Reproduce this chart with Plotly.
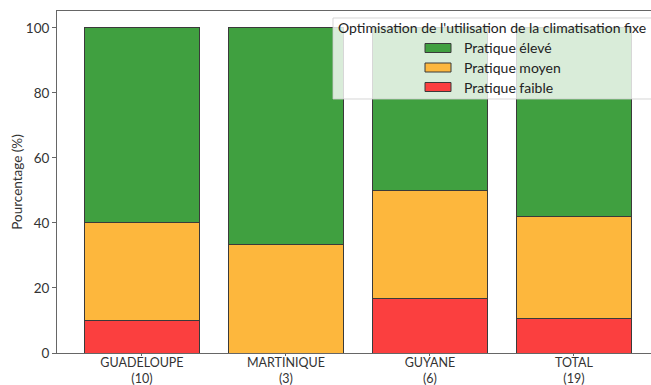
import plotly.graph_objects as go

categories = ["GUADELOUPE<br>(10)", "MARTINIQUE<br>(3)", "GUYANE<br>(6)", "TOTAL<br>(19)"]
faible = [10.0, 0.0, 16.67, 10.53]
moyen = [30.0, 33.33, 33.33, 31.58]
eleve = [60.0, 66.67, 50.0, 57.89]
series_names = ["Pratique faible", "Pratique moyen", "Pratique élevé"]
legend_title = "Optimisation de l'utilisation de la climatisation fixe"
colors = {"Pratique faible": "#fb3f3f", "Pratique moyen": "#fdb73d", "Pratique élevé": "#40a040"}

W, H = 651, 385
L, R, T, B = 57, 0, 11, 32
PW, PH = W - L - R, H - T - B

def px(x):
    return (x - L) / PW

def py(y):
    return (H - B - y) / PH

FONT = "Lato, 'Open Sans', sans-serif"

fig = go.Figure()
xs = list(range(len(categories)))
for name, vals in zip(series_names, [faible, moyen, eleve]):
    fig.add_trace(go.Bar(
        x=xs, y=vals, name=name, width=0.8,
        marker=dict(color=colors[name], line=dict(color="#3a3a3a", width=1)),
        showlegend=False, hoverinfo="skip",
    ))

fig.update_layout(
    barmode="stack",
    width=W, height=H,
    margin=dict(l=L, r=R, t=T, b=B, pad=0, autoexpand=False),
    plot_bgcolor="white", paper_bgcolor="white",
    font=dict(family=FONT, size=13, color="#333333"),
    xaxis=dict(
        range=[-0.59, 3.535], tickmode="array", tickvals=xs, ticktext=categories,
        showline=True, linecolor="#666666", linewidth=1, mirror=True,
        ticks="outside", ticklen=2, tickcolor="#666666", showgrid=False, zeroline=False,
        tickfont=dict(size=12.5, color="#333333"), automargin=False,
        ticklabelstandoff=-4,
    ),
    yaxis=dict(
        range=[0, 105.2], tickvals=[0, 20, 40, 60, 80, 100],
        showline=True, linecolor="#666666", linewidth=1, mirror=False,
        ticks="outside", ticklen=4, tickcolor="#666666", showgrid=False, zeroline=False,
        title=dict(text="Pourcentage (%)", standoff=0, font=dict(size=13.5)),
        tickfont=dict(size=13.5, color="#333333"), automargin=False,
    ),
)

# legend box
fig.add_shape(type="rect", xref="paper", yref="paper",
              x0=px(333), x1=px(664), y0=py(99), y1=py(18),
              fillcolor="rgba(255,255,255,0.8)", line=dict(color="rgba(204,204,204,0.8)", width=1),
              layer="above")
fig.add_annotation(text=legend_title, xref="paper", yref="paper", x=px(492), y=py(28),
                   showarrow=False, xanchor="center", yanchor="middle",
                   font=dict(size=14, color="#222222"))
for i, name in enumerate(["Pratique élevé", "Pratique moyen", "Pratique faible"]):
    cy = 48 + 19.5 * i
    fig.add_shape(type="rect", xref="paper", yref="paper",
                  x0=px(425), x1=px(451), y0=py(cy + 4.5), y1=py(cy - 4.5),
                  fillcolor=colors[name], line=dict(color="#3a3a3a", width=1), layer="above")
    fig.add_annotation(text=name, xref="paper", yref="paper", x=px(462), y=py(cy),
                       showarrow=False, xanchor="left", yanchor="middle",
                       font=dict(size=14, color="#222222"))

fig.write_html("out.html", config={"displayModeBar": False},
               post_script="document.body.style.margin='0';document.body.style.overflow='hidden';")
